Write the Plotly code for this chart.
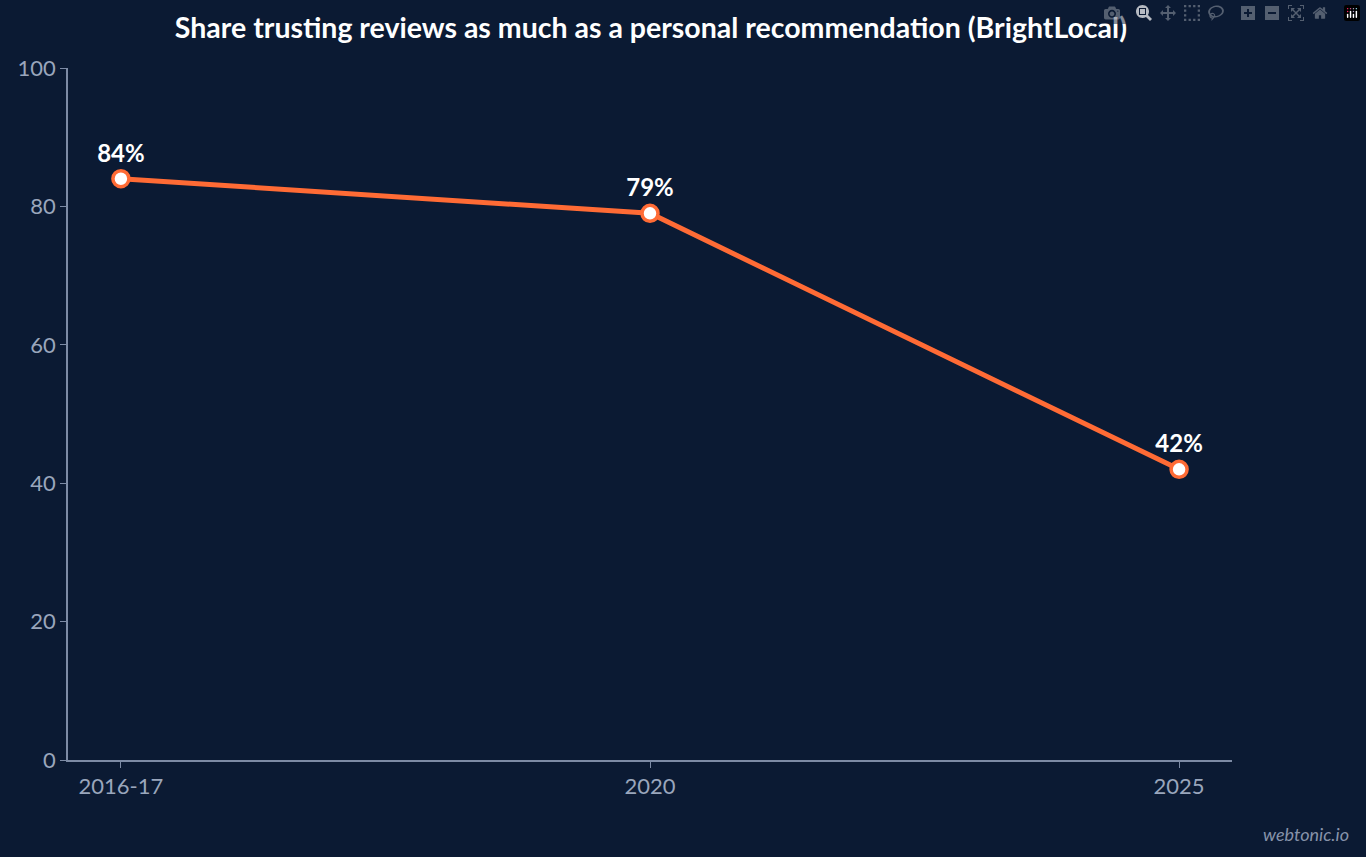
import plotly.graph_objects as go

categories = ["2016-17", "2020", "2025"]
values = [84, 79, 42]
labels = ["84%", "79%", "42%"]

fig = go.Figure(go.Scatter(
    x=categories, y=values, mode="lines+markers+text",
    text=labels, textposition="top center",
    textfont=dict(family="Lato", size=24, color="white", weight="bold"),
    line=dict(color="#FF6B35", width=5),
    marker=dict(size=16, color="white", line=dict(color="#FF6B35", width=3.5)),
    cliponaxis=False, hoverinfo="skip"))

fig.update_layout(
    width=1366, height=857,
    paper_bgcolor="#0B1A33", plot_bgcolor="#0B1A33",
    margin=dict(l=68, r=134, t=68, b=97),
    title=dict(text="<b>Share trusting reviews as much as a personal recommendation (BrightLocal)</b>",
               x=0.4765, xanchor="center", y=0.967, yanchor="middle",
               font=dict(family="Lato", size=28.5, color="white")),
    font=dict(family="Lato"),
    showlegend=False,
    xaxis=dict(type="category", range=[-0.1, 2.1], showgrid=False, showline=True,
               linecolor="#7D8BA5", linewidth=1.5, ticks="outside", tickcolor="#7D8BA5",
               ticklen=6, tickfont=dict(size=22, color="#9AA6BC"), zeroline=False),
    yaxis=dict(range=[0, 100], dtick=20, showgrid=False, showline=True,
               linecolor="#7D8BA5", linewidth=1.5, ticks="outside", tickcolor="#7D8BA5",
               ticklen=6, tickfont=dict(size=22, color="#9AA6BC"), zeroline=False),
    annotations=[dict(text="<i>webtonic.io</i>", xref="paper", yref="paper",
                      x=1.102, y=-0.107, xanchor="right", yanchor="middle", showarrow=False,
                      font=dict(family="Lato", size=18, color="#8793AA"))])

fig.write_html("out.html", post_script="document.body.style.margin='0';document.body.style.background='#0B1A33';")
